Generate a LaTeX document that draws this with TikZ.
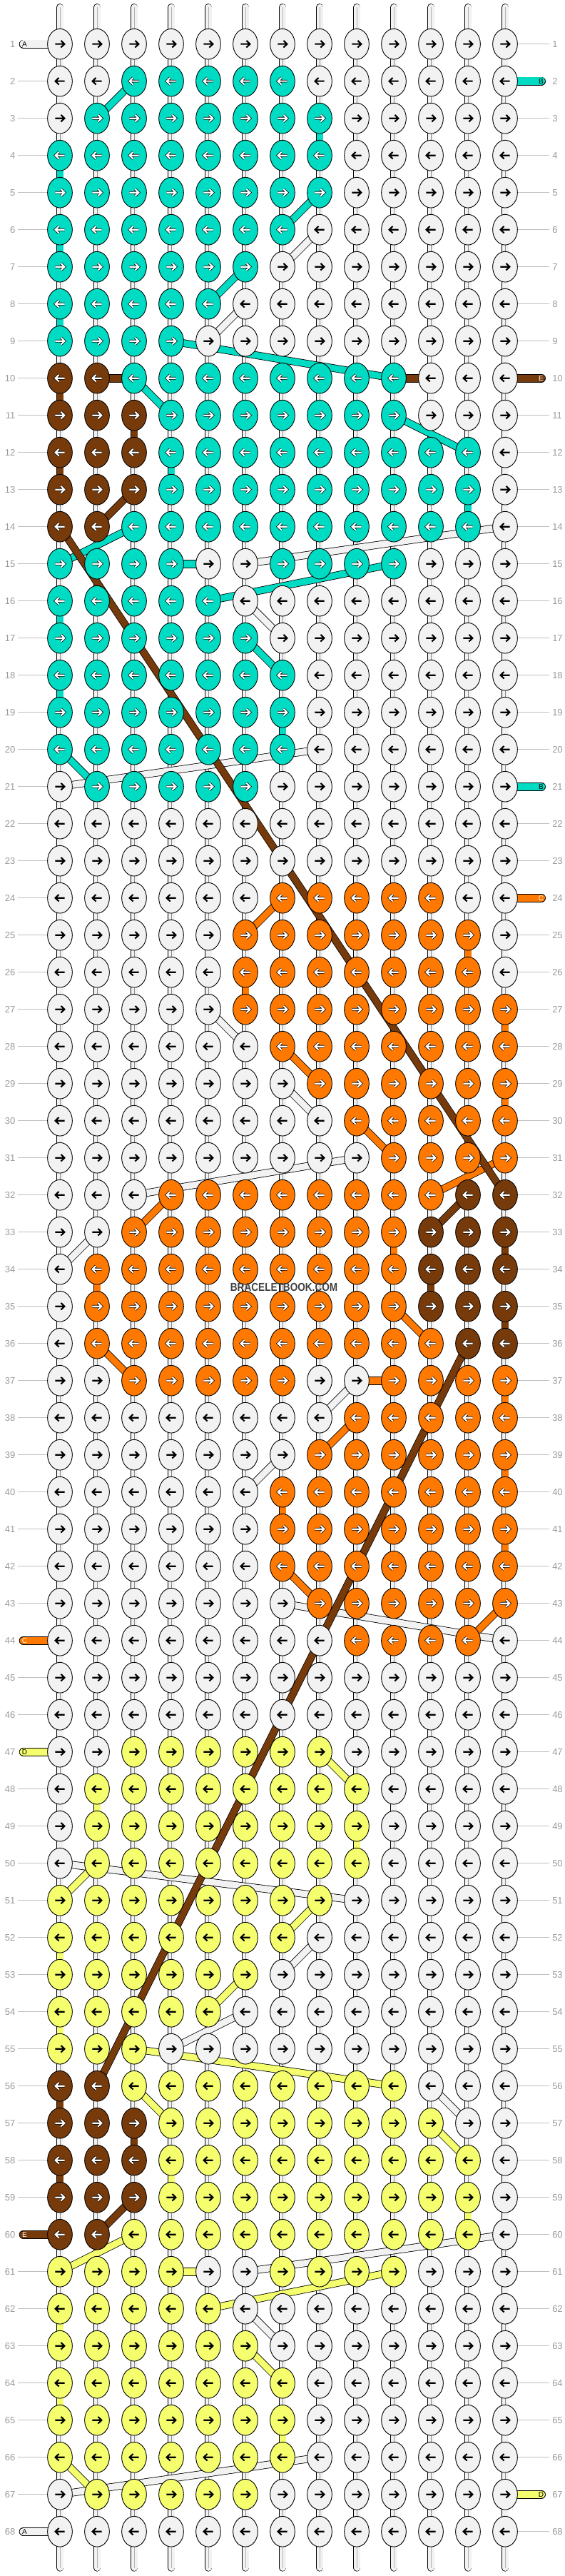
\documentclass[tikz,border=0pt]{standalone}
\usepackage{fontspec}
\setmainfont{Liberation Sans}
\usetikzlibrary{shapes.geometric}

% knot colours
\definecolor{cW}{HTML}{F2F2F2}
\definecolor{cT}{HTML}{00DCC3}
\definecolor{cB}{HTML}{763A0B}
\definecolor{cO}{HTML}{FF7800}
\definecolor{cY}{HTML}{F5FF6E}
\colorlet{ct}{cT}\colorlet{co}{cO}\colorlet{cy}{cY}
% arrow colours: a = stroke, o = outline
\colorlet{aW}{black}\colorlet{oW}{cW}
\colorlet{aY}{black}\colorlet{oY}{cY}
\colorlet{ay}{black}\colorlet{oy}{cY}
\colorlet{aT}{white}\colorlet{oT}{black}
\colorlet{at}{white}\colorlet{ot}{black}
\colorlet{aB}{white}\colorlet{oB}{black}
\colorlet{aO}{white}\colorlet{oO}{black}
\colorlet{ao}{white}\colorlet{oo}{black}

% colour of the thread that runs along the row (lower case = white row thread)
\def\thrW{W}\def\thrt{W}\def\thro{W}\def\thry{W}
\def\thrT{T}\def\thrB{B}\def\thrO{O}\def\thrY{Y}
% knot colour without the case
\def\upW{W}\def\upt{T}\def\upo{O}\def\upy{Y}
\def\upT{T}\def\upB{B}\def\upO{O}\def\upY{Y}\def\upN{N}
\def\kup#1#2{\csname up\csname kc-#1-#2\endcsname\endcsname}
\def\kwhite{W}

% knot colours, row by row
\newcount\knotcol
\def\knotrow#1#2{\knotcol=0 \def\currow{#1}\readknot#2\relax
  \expandafter\def\csname kc-#1-0\endcsname{N}%
  \expandafter\def\csname kc-#1-14\endcsname{N}}
\def\readknot#1{\ifx#1\relax\else
  \advance\knotcol by 1
  \expandafter\def\csname kc-\currow-\the\knotcol\endcsname{#1}%
  \expandafter\readknot\fi}

\knotrow{1}{WWWWWWWWWWWWW}
\knotrow{2}{WWtttttWWWWWW}
\knotrow{3}{WtttttttWWWWW}
\knotrow{4}{TTTTTTTTWWWWW}
\knotrow{5}{TTTTTTTTWWWWW}
\knotrow{6}{TTTTTTTWWWWWW}
\knotrow{7}{TTTTTTWWWWWWW}
\knotrow{8}{TTTTTWWWWWWWW}
\knotrow{9}{TTTTWWWWWWWWW}
\knotrow{10}{BBTTTTTTTTWWW}
\knotrow{11}{BBBTTTTTTTWWW}
\knotrow{12}{BBBTTTTTTTTTW}
\knotrow{13}{BBBTTTTTTTTTW}
\knotrow{14}{BBTTTTTTTTTTW}
\knotrow{15}{TTTTWWttttWWW}
\knotrow{16}{TTTTTWWWWWWWW}
\knotrow{17}{TTTTTTWWWWWWW}
\knotrow{18}{TTTTTTTWWWWWW}
\knotrow{19}{TTTTTTTWWWWWW}
\knotrow{20}{TTTTTTTWWWWWW}
\knotrow{21}{WtttttWWWWWWW}
\knotrow{22}{WWWWWWWWWWWWW}
\knotrow{23}{WWWWWWWWWWWWW}
\knotrow{24}{WWWWWWoooooWW}
\knotrow{25}{WWWWWoooooooW}
\knotrow{26}{WWWWWoooooooW}
\knotrow{27}{WWWWWOOOOOOOO}
\knotrow{28}{WWWWWWOOOOOOO}
\knotrow{29}{WWWWWWWOOOOOO}
\knotrow{30}{WWWWWWWWOOOOO}
\knotrow{31}{WWWWWWWWWOOOO}
\knotrow{32}{WWWOOOOOOOOBB}
\knotrow{33}{WWOOOOOOOOBBB}
\knotrow{34}{WOOOOOOOOOBBB}
\knotrow{35}{WOOOOOOOOOBBB}
\knotrow{36}{WOOOOOOOOOOBB}
\knotrow{37}{WWoooooWWOOOO}
\knotrow{38}{WWWWWWWWOOOOO}
\knotrow{39}{WWWWWWWOOOOOO}
\knotrow{40}{WWWWWWOOOOOOO}
\knotrow{41}{WWWWWWOOOOOOO}
\knotrow{42}{WWWWWWOOOOOOO}
\knotrow{43}{WWWWWWWOOOOOO}
\knotrow{44}{WWWWWWWWooooW}
\knotrow{45}{WWWWWWWWWWWWW}
\knotrow{46}{WWWWWWWWWWWWW}
\knotrow{47}{WWyyyyyyWWWWW}
\knotrow{48}{WyyyyyyyyWWWW}
\knotrow{49}{WyyyyyyyyWWWW}
\knotrow{50}{WyyyyyyyyWWWW}
\knotrow{51}{YYYYYYYYWWWWW}
\knotrow{52}{YYYYYYYWWWWWW}
\knotrow{53}{YYYYYYWWWWWWW}
\knotrow{54}{YYYYYWWWWWWWW}
\knotrow{55}{YYYWWWWWWWWWW}
\knotrow{56}{BBYYYYYYYYWWW}
\knotrow{57}{BBBYYYYYYYYWW}
\knotrow{58}{BBBYYYYYYYYYW}
\knotrow{59}{BBBYYYYYYYYYW}
\knotrow{60}{BBYYYYYYYYYYW}
\knotrow{61}{YYYYWWyyyyWWW}
\knotrow{62}{YYYYYWWWWWWWW}
\knotrow{63}{YYYYYYWWWWWWW}
\knotrow{64}{YYYYYYYWWWWWW}
\knotrow{65}{YYYYYYYWWWWWW}
\knotrow{66}{YYYYYYYWWWWWW}
\knotrow{67}{WyyyyyWWWWWWW}
\knotrow{68}{WWWWWWWWWWWWW}

\pgfdeclarelayer{threads}
\pgfdeclarelayer{bands}
\pgfsetlayers{threads,bands,main}

\tikzset{
  knot/.style={ellipse, draw=black, line width=0.9pt, minimum width=34.7pt,
    minimum height=42.7pt, inner sep=0pt},
  strand/.style={draw=black, line width=10.6pt,
    postaction={draw=cW, line width=9pt}, postaction={draw=black!45, line width=0.5pt}},
  turn/.style={draw=black, line width=10.6pt, postaction={draw=#1, line width=9pt}},
  stub/.style={draw=black, line width=10.6pt, line cap=round,
    postaction={draw=cW, line width=9pt, line cap=round},
    postaction={draw=black!30, line width=0.6pt}},
  hthread/.style={draw=black, line width=12pt, postaction={draw=#1, line width=10.4pt}},
  band/.style={draw=black, line width=10.6pt, postaction={draw=#1, line width=9pt}},
  pill/.style={draw=black, line width=12pt, line cap=round,
    postaction={draw=#1, line width=10.4pt, line cap=round}},
  gapline/.style={draw=black!25, line width=1pt},
  rowline/.style={draw=black!25, line width=1pt},
  rowlabel/.style={text=black!40, inner sep=0pt, font=\fontsize{13}{15}\selectfont},
  endlabel/.style={inner sep=0pt, font=\fontsize{10}{12}\selectfont},
  pics/knotarrow/.style={code={
    \draw[draw=o#1, line width=3.6pt, line join=miter]
      (-6.6pt,0pt) -- (5.6pt,0pt) (1.4pt,4.8pt) -- (6.4pt,0pt) -- (1.4pt,-4.8pt);
    \draw[draw=a#1, line width=2.1pt, line join=miter]
      (-6.6pt,0pt) -- (5.6pt,0pt) (1.4pt,4.8pt) -- (6.4pt,0pt) -- (1.4pt,-4.8pt);
  }}
}

\begin{document}
\begin{tikzpicture}[x=52pt, y=-52pt]
  \useasboundingbox (-0.61538,-0.18654) rectangle (14.61538,69.1981);

  % knots
  \foreach \r in {1,...,68}{
    \pgfmathsetmacro\dir{isodd(\r) ? 1 : -1}
    \foreach \c in {1,...,13}{
      \edef\kc{\csname kc-\r-\c\endcsname}
      \node[knot, fill=c\kc] (k-\r-\c) at (\c,\r) {};
      \pic[xscale=\dir] at (k-\r-\c) {knotarrow=\kc};
    }
  }

  \begin{pgfonlayer}{threads}
    % vertical strands, single where the row thread turns down
    \foreach \r [evaluate=\r as \rn using int(\r+1)] in {1,...,67}{
      \pgfmathtruncatemacro\odd{isodd(\r)}
      \foreach \c [evaluate=\c as \cp using int(\c+1), evaluate=\c as \cm using int(\c-1)] in {1,...,13}{
        \ifnum\odd=1 \edef\nx{\cp}\else\edef\nx{\cm}\fi
        \edef\ka{\kup{\r}{\c}}\edef\kb{\kup{\rn}{\c}}
        \edef\na{\kup{\r}{\nx}}\edef\nb{\kup{\rn}{\nx}}
        \let\vcol\relax
        \ifx\ka\kb\ifx\na\ka\else\ifx\nb\ka\else\edef\vcol{c\ka}\fi\fi\fi
        \ifx\vcol\relax
          \draw[strand] (k-\r-\c.center) -- (k-\rn-\c.center);
        \else
          \draw[turn=\vcol] (k-\r-\c.center) -- (k-\rn-\c.center);
        \fi
      }
    }
    \foreach \c in {1,...,13}{
      \coordinate (top-\c) at (\c,0.0115);
      \coordinate (bot-\c) at (\c,68.975);
      \draw[stub] (top-\c) -- (k-1-\c.center);
      \draw[stub] (k-68-\c.center) -- (bot-\c);
    }
    % row threads
    \foreach \r in {1,...,68}
      \foreach \c [evaluate=\c as \cn using int(\c+1)] in {1,...,12}{
        \edef\ta{\csname thr\csname kc-\r-\c\endcsname\endcsname}
        \edef\tb{\csname thr\csname kc-\r-\cn\endcsname\endcsname}
        \ifx\ta\tb
          \draw[hthread=c\ta] (k-\r-\c.center) -- (k-\r-\cn.center);
        \else
          \draw[gapline] (k-\r-\c.center) -- (k-\r-\cn.center);
        \fi
      }
    \draw[hthread=cB] (k-10-2.center) -- (k-10-3.center);
    \draw[hthread=cB] (k-10-10.center) -- (k-10-11.center);
    \draw[hthread=cT] (k-15-4.center) -- (k-15-5.center);
    \draw[hthread=cO] (k-37-9.center) -- (k-37-10.center);
    \draw[hthread=cY] (k-61-4.center) -- (k-61-5.center);
    % loose ends
    \foreach \r/\thc in {1/cW, 44/cO, 47/cY, 60/cB, 68/cW}{
      \coordinate (el-\r) at (0.0135,\r);
      \draw[pill=\thc] (el-\r) -- (k-\r-1.center);
    }
    \foreach \r/\thc in {2/cT, 10/cB, 21/cT, 24/cO, 67/cY}{
      \coordinate (er-\r) at (13.98,\r);
      \draw[pill=\thc] (k-\r-13.center) -- (er-\r);
    }
  \end{pgfonlayer}

  % threads that cross to another row
  \begin{pgfonlayer}{bands}
    \foreach \ri/\ci/\rj/\cj in {6/8/7/7, 8/6/9/5, 14/13/15/6, 16/6/17/7, 20/8/21/1,
        27/5/28/6, 29/7/30/8, 31/9/32/3, 33/2/34/1, 37/9/38/8, 39/7/40/6, 43/7/44/13,
        50/1/51/9, 52/8/53/7, 54/6/55/4, 56/11/57/12, 60/13/61/6, 62/6/63/7, 66/8/67/1}
      \draw[band=cW] (k-\ri-\ci.center) -- (k-\rj-\cj.center);
    \foreach \ri/\ci/\rj/\cj in {2/3/3/2, 5/8/6/7, 7/6/8/5, 9/4/10/10, 10/3/11/4,
        11/10/12/12, 14/3/15/1, 15/10/16/5, 17/6/18/7, 20/1/21/2}
      \draw[band=cT] (k-\ri-\ci.center) -- (k-\rj-\cj.center);
    \foreach \ri/\ci/\rj/\cj in {24/7/25/6, 28/7/29/8, 30/9/31/10, 31/13/32/11, 32/4/33/3,
        35/10/36/11, 36/2/37/3, 38/9/39/8, 42/7/43/8, 43/13/44/12}
      \draw[band=cO] (k-\ri-\ci.center) -- (k-\rj-\cj.center);
    \foreach \ri/\ci/\rj/\cj in {47/8/48/9, 50/2/51/1, 51/8/52/7, 53/6/54/5, 55/3/56/10,
        56/3/57/4, 57/11/58/12, 60/3/61/1, 61/10/62/5, 63/6/64/7, 66/1/67/2}
      \draw[band=cY] (k-\ri-\ci.center) -- (k-\rj-\cj.center);
    \foreach \ri/\ci/\rj/\cj in {13/3/14/2, 14/1/32/13, 32/12/33/11, 36/12/56/2, 59/3/60/2}
      \draw[band=cB] (k-\ri-\ci.center) -- (k-\rj-\cj.center);
  \end{pgfonlayer}

  % row numbers
  \foreach \r in {1,...,68}{
    \pgfmathtruncatemacro\lend{(\r==1)||(\r==44)||(\r==47)||(\r==60)||(\r==68)}
    \pgfmathtruncatemacro\rend{(\r==2)||(\r==10)||(\r==21)||(\r==24)||(\r==67)}
    \coordinate (rl-\r) at (-0.135,\r);
    \coordinate (rr-\r) at (14.19,\r);
    \ifnum\lend=0 \draw[rowline] (rl-\r) -- (k-\r-1); \fi
    \ifnum\rend=0 \draw[rowline] (k-\r-13) -- (rr-\r); \fi
    \node[rowlabel, anchor=east] (nl-\r) at (-0.202,\r) {\r};
    \node[rowlabel, anchor=west] (nr-\r) at (14.27,\r) {\r};
  }

  % thread letters
  \foreach \r/\lt/\lc in {1/A/black, 44/C/white, 47/D/black, 60/E/white, 68/A/black}
    \node[endlabel, text=\lc] (tl-\r) at (0.048,\r) {\lt};
  \foreach \r/\lt/\lc in {2/B/black, 10/E/white, 21/B/black, 24/C/white, 67/D/black}
    \node[endlabel, text=\lc] (tr-\r) at (13.971,\r) {\lt};

  \node[font=\bfseries\fontsize{16}{16}\selectfont, text=black!75, transform shape,
    xscale=0.85] (mark) at (7.04,34.49) {BRACELETBOOK.COM};
\end{tikzpicture}
\end{document}
